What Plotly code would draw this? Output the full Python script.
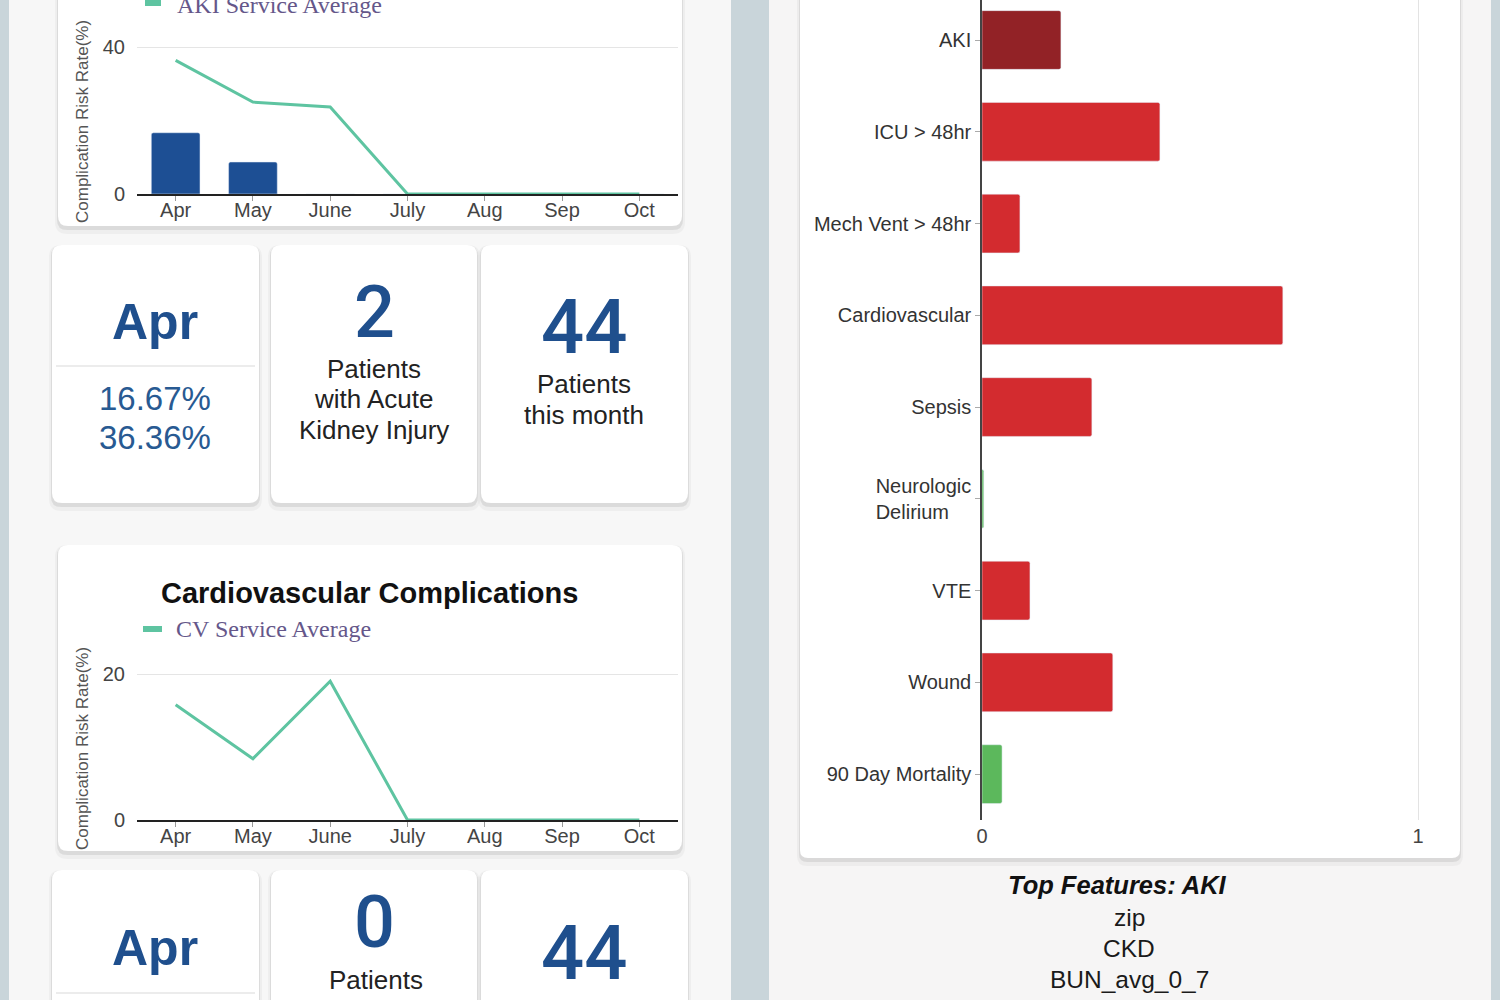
import plotly.graph_objects as go

W, H = 1500, 1000

# ---------------- data ----------------
months = ["Apr", "May", "June", "July", "Aug", "Sep", "Oct"]
aki_patient_rate = [16.67, 8.7, 0, 0, 0, 0, 0]
aki_service_avg = [36.36, 25.0, 23.7, 0, 0, 0, 0]
cv_service_avg = [15.8, 8.4, 19.0, 0, 0, 0, 0]

complications = ["AKI", "ICU > 48hr", "Mech Vent > 48hr", "Cardiovascular", "Sepsis",
                 "Neurologic<br>Delirium" + "\u00a0" * 4, "VTE", "Wound", "90 Day Mortality"]
risk_scores = [0.181, 0.408, 0.087, 0.690, 0.252, 0.004, 0.110, 0.300, 0.046]
risk_levels = ["selected", "high", "high", "high", "high", "low", "high", "high", "low"]

aki_month = "Apr"
aki_rates = ["16.67%", "36.36%"]
aki_count = "2"
aki_count_label = ["Patients", "with Acute", "Kidney Injury"]
aki_total = "44"
aki_total_label = ["Patients", "this month"]

cv_month = "Apr"
cv_count = "0"
cv_count_label = ["Patients"]
cv_total = "44"

top_features_title = "Top Features: AKI"
top_features = ["zip", "CKD", "BUN_avg_0_7"]

# ---------------- styles ----------------
SANS = "Liberation Sans, Arial, sans-serif"
SERIF = "Liberation Serif, Times New Roman, serif"
BLUE = "#1f4f8d"
GREEN_LINE = "#5ec4a1"
level_colors = {"selected": "#922226", "high": "#d32b2f", "low": "#5cb85c"}


def px(x):
    return x / W


def py(y):
    return 1 - y / H


def rrect_path(x0, y0, x1, y1, r):
    pts = [
        ("M", (x0 + r, y0)), ("L", (x1 - r, y0)), ("Q", (x1, y0), (x1, y0 + r)),
        ("L", (x1, y1 - r)), ("Q", (x1, y1), (x1 - r, y1)), ("L", (x0 + r, y1)),
        ("Q", (x0, y1), (x0, y1 - r)), ("L", (x0, y0 + r)), ("Q", (x0, y0), (x0 + r, y0)),
    ]
    s = ""
    for p in pts:
        coords = " ".join(f"{px(a):.5f},{py(b):.5f}" for a, b in p[1:])
        s += f"{p[0]} {coords} "
    return s + "Z"


shapes = []


def rect(x0, y0, x1, y1, color):
    shapes.append(dict(type="rect", xref="paper", yref="paper", x0=px(x0), x1=px(x1),
                       y0=py(y1), y1=py(y0), fillcolor=color, line_width=0, layer="below"))


def card(x0, y0, x1, y1, r=10):
    shapes.append(dict(type="path", xref="paper", yref="paper",
                       path=rrect_path(x0 - 3, y0, x1 + 3, y1 + 8, r + 2),
                       fillcolor="rgba(0,0,0,0.035)", line_width=0, layer="below"))
    shapes.append(dict(type="path", xref="paper", yref="paper",
                       path=rrect_path(x0 - 1, y0 + 1, x1 + 1, y1 + 4, r),
                       fillcolor="rgba(0,0,0,0.08)", line_width=0, layer="below"))
    shapes.append(dict(type="path", xref="paper", yref="paper",
                       path=rrect_path(x0, y0, x1, y1, r),
                       fillcolor="white", line_width=0, layer="below"))


# backgrounds
rect(0, 0, 9, 1000, "#c9d5da")
rect(9, 0, 731, 1000, "#f7f7f7")
rect(731, 0, 769, 1000, "#c9d5da")
rect(769, 0, 1491, 1000, "#f6f5f5")
rect(1491, 0, 1500, 1000, "#c9d5da")

# cards
card(58, -30, 682, 226)
card(58, 545, 682, 851)
for (a, b) in [(52, 259), (271, 477), (481, 688)]:
    card(a, 245, b, 503)
    card(a, 870, b, 1040)
card(800, -30, 1460, 858, 8)

# dividers in month cards
for yy in (366, 993):
    shapes.append(dict(type="line", xref="paper", yref="paper", x0=px(56), x1=px(255),
                       y0=py(yy), y1=py(yy), line=dict(color="#ececec", width=2), layer="below"))

# legend dashes
for yy, x0, x1 in [(3, 145, 161), (629, 143, 162)]:
    shapes.append(dict(type="line", xref="paper", yref="paper", x0=px(x0), x1=px(x1),
                       y0=py(yy), y1=py(yy), line=dict(color=GREEN_LINE, width=6)))

fig = go.Figure()

# AKI chart
fig.add_trace(go.Bar(x=months, y=aki_patient_rate, width=0.63, marker=dict(color="#1d4f94", cornerradius=2),
                     xaxis="x", yaxis="y", showlegend=False, hoverinfo="skip"))
fig.add_trace(go.Scatter(x=months, y=aki_service_avg, mode="lines", line=dict(color=GREEN_LINE, width=3),
                         xaxis="x", yaxis="y", showlegend=False, name="AKI Service Average"))
# CV chart
fig.add_trace(go.Scatter(x=months, y=cv_service_avg, mode="lines", line=dict(color=GREEN_LINE, width=3),
                         xaxis="x2", yaxis="y2", showlegend=False, name="CV Service Average"))
# risk bar chart
fig.add_trace(go.Bar(x=risk_scores, y=complications, orientation="h", width=0.64,
                     marker=dict(color=[level_colors[l] for l in risk_levels], cornerradius=2),
                     xaxis="x3", yaxis="y3", showlegend=False))

tickfont = dict(family=SANS, size=20, color="#444")
xcommon = dict(type="category", range=[-0.5, 6.5], showline=True, linecolor="#222", linewidth=1.5,
               ticks="outside", ticklen=5, tickcolor="#999", tickfont=tickfont, ticklabelstandoff=-8,
               showgrid=False, zeroline=False, fixedrange=True, automargin=False)
ycommon = dict(showgrid=True, gridcolor="#e5e5e5", gridwidth=1, showline=False, zeroline=False,
               tickfont=tickfont, ticks="outside", ticklen=7, tickcolor="rgba(0,0,0,0)",
               fixedrange=True, automargin=False)

fig.update_layout(
    width=W, height=H, margin=dict(l=0, r=0, t=0, b=0, pad=0, autoexpand=False),
    paper_bgcolor="#f6f6f6", plot_bgcolor="rgba(0,0,0,0)",
    shapes=shapes,
    xaxis=dict(domain=[px(137), px(678)], anchor="y", **xcommon),
    yaxis=dict(domain=[py(194), py(25)], anchor="x", range=[0, (194 - 25) / 3.675],
               tickvals=[0, 40], **ycommon),
    xaxis2=dict(domain=[px(137), px(678)], anchor="y2", **xcommon),
    yaxis2=dict(domain=[py(820), py(655)], anchor="x2", range=[0, (820 - 655) / 7.3],
                tickvals=[0, 20], **ycommon),
    xaxis3=dict(domain=[px(982), px(1440)], anchor="y3", range=[0, (1440 - 982) / 436],
                tickvals=[0, 1], showgrid=True, gridcolor="#e3e3e3", zeroline=False,
                showline=False, ticks="", tickfont=tickfont, ticklabelstandoff=2,
                fixedrange=True, automargin=False),
    yaxis3=dict(domain=[py(820), 1], anchor="x3", type="category", range=[8.5, -0.436],
                showline=True, linecolor="#444", linewidth=1.5, ticks="outside", ticklen=5,
                tickcolor="#aaa", tickfont=dict(family=SANS, size=20, color="#333"),
                showgrid=False, zeroline=False, fixedrange=True, automargin=False),
)

ann = []


def text(x, y, t, size, color="#222", family=SANS, xanchor="center", weight=None, **kw):
    f = dict(family=family, size=size, color=color)
    if weight:
        f["weight"] = weight
    ann.append(dict(xref="paper", yref="paper", x=px(x), y=py(y), text=t, showarrow=False,
                    xanchor=xanchor, yanchor="middle", font=f, **kw))


# axis titles & legends
text(82, 122, "Complication Risk Rate(%)", 17, "#555", textangle=-90)
text(82, 749, "Complication Risk Rate(%)", 17, "#555", textangle=-90)
text(175, 5, "AKI Service Average", 24, "#65578a", SERIF, xanchor="left")
text(174, 629, "CV Service Average", 24, "#65578a", SERIF, xanchor="left")
text(369, 593, "<b>Cardiovascular Complications</b>", 29, "#111")

# stat cards row 1
text(155, 322, f"<b>{aki_month}</b>", 50, BLUE)
for i, r in enumerate(aki_rates):
    text(155, 398 + 39 * i, r, 33, "#285a92")
text(374, 313, aki_count, 72, BLUE, family="Roboto", weight=500)
for i, t in enumerate(aki_count_label):
    text(374, 369 + 30.5 * i, t, 26, "#222")
text(584, 327, aki_total, 76, BLUE, family="Roboto", weight=500)
for i, t in enumerate(aki_total_label):
    text(584, 384 + 31 * i, t, 26, "#222")

# stat cards row 2
text(155, 948, f"<b>{cv_month}</b>", 50, BLUE)
text(374, 922, cv_count, 72, BLUE, family="Roboto", weight=500)
for i, t in enumerate(cv_count_label):
    text(376, 980 + 30.5 * i, t, 26, "#222")
text(584, 953, cv_total, 76, BLUE, family="Roboto", weight=500)

# top features
text(1117, 885, f"<b><i>{top_features_title}</i></b>", 25.5, "#111")
for i, f in enumerate(top_features):
    text(1129, 917 + 31 * i, f, 24.5, "#1a1a1a")

fig.update_layout(annotations=ann)

css_fix = (
    "var s=document.createElement('style');"
    "s.innerHTML='html,body{margin:0!important;padding:0!important;overflow:hidden!important;"
    "width:1500px;height:1000px;} .plotly-graph-div{display:block;}';"
    "document.head.appendChild(s);"
)
fig.write_html("out.html", config={"displayModeBar": False}, post_script=css_fix)
